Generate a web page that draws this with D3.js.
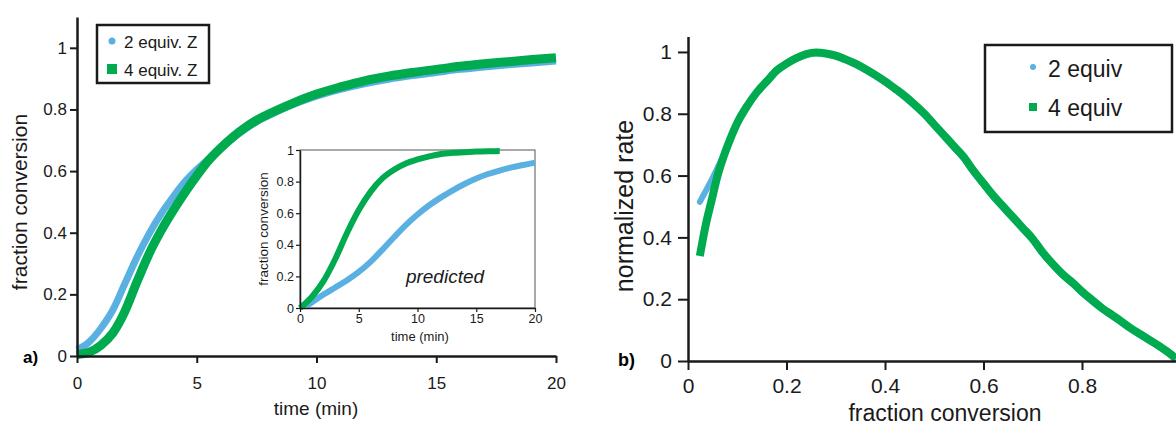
<!DOCTYPE html>
<html>
<head>
<meta charset="utf-8">
<script src="https://cdn.jsdelivr.net/npm/d3@7"></script>
<style>
  body { margin: 0; background: #fff; }
  svg { display: block; font-family: "Liberation Sans", Arial, sans-serif; }
  .domain { stroke: #1a1a1a; }
</style>
</head>
<body>
<svg id="chart" width="1176" height="428"></svg>
<script>
// ---- data ----
// panel a, measured curves
var mainTime = [0, 0.5, 1, 1.5, 2, 2.5, 3, 3.5, 4, 4.5, 5, 5.5, 6, 6.5, 7, 7.5, 8, 9, 10, 11, 12, 13, 14, 15, 16, 17, 18, 19, 20];
var main2equiv = [0.02, 0.045, 0.09, 0.15, 0.235, 0.32, 0.395, 0.46, 0.515, 0.565, 0.605, 0.64, 0.675, 0.707, 0.735, 0.76, 0.78, 0.815, 0.843, 0.865, 0.883, 0.898, 0.91, 0.92, 0.93, 0.938, 0.945, 0.951, 0.957];
var main4equiv = [0.005, 0.012, 0.035, 0.075, 0.145, 0.24, 0.33, 0.405, 0.47, 0.53, 0.585, 0.635, 0.675, 0.71, 0.74, 0.765, 0.785, 0.82, 0.85, 0.873, 0.893, 0.908, 0.92, 0.93, 0.94, 0.948, 0.955, 0.962, 0.968];

// panel a inset, predicted curves
var insetTime2 = [0.5, 1, 2, 3, 4, 5, 6, 7, 8, 9, 10, 11, 12, 13, 14, 15, 16, 17, 18, 19, 20];
var inset2equiv = [0.01, 0.035, 0.085, 0.13, 0.175, 0.228, 0.292, 0.368, 0.448, 0.525, 0.592, 0.65, 0.7, 0.745, 0.785, 0.82, 0.848, 0.87, 0.89, 0.905, 0.92];
var insetTime4 = [0, 1, 2, 3, 4, 5, 6, 7, 8, 9, 10, 11, 12, 13, 14, 15, 16, 17];
var inset4equiv = [0.0, 0.07, 0.17, 0.31, 0.475, 0.62, 0.735, 0.82, 0.875, 0.915, 0.94, 0.96, 0.975, 0.982, 0.986, 0.99, 0.992, 0.993];

// panel b, normalized rate vs fraction conversion
var convB = [0.024, 0.036, 0.048, 0.06, 0.072, 0.085, 0.1, 0.12, 0.14, 0.16, 0.18, 0.2, 0.22, 0.24, 0.26, 0.28, 0.3, 0.32, 0.34, 0.36, 0.38, 0.4, 0.42, 0.44, 0.46, 0.48, 0.5, 0.52, 0.54, 0.56, 0.58, 0.6, 0.62, 0.64, 0.66, 0.68, 0.7, 0.72, 0.74, 0.76, 0.78, 0.8, 0.82, 0.84, 0.86, 0.88, 0.9, 0.92, 0.94, 0.96, 0.98, 0.99];
var rate4equiv = [0.34, 0.44, 0.52, 0.6, 0.66, 0.715, 0.77, 0.825, 0.87, 0.905, 0.94, 0.962, 0.98, 0.993, 0.998, 0.995, 0.988, 0.976, 0.962, 0.945, 0.926, 0.905, 0.882, 0.858, 0.83, 0.8, 0.765, 0.73, 0.695, 0.66, 0.615, 0.575, 0.535, 0.5, 0.465, 0.43, 0.395, 0.352, 0.315, 0.282, 0.255, 0.225, 0.198, 0.172, 0.15, 0.128, 0.105, 0.085, 0.065, 0.045, 0.022, 0.008];
var rate2equiv = [0.515, 0.55, 0.586, 0.625, 0.665, 0.715, 0.77, 0.825, 0.868, 0.903, 0.937, 0.96, 0.978, 0.99, 0.996, 0.993, 0.985, 0.973, 0.958, 0.941, 0.922, 0.901, 0.878, 0.853, 0.826, 0.796, 0.761, 0.726, 0.69, 0.655, 0.61, 0.57, 0.53, 0.495, 0.46, 0.425, 0.39, 0.347, 0.31, 0.277, 0.25, 0.22, 0.193, 0.168, 0.146, 0.124, 0.101, 0.081, 0.062, 0.042, 0.02, 0.007];

var ticksA = [0, 0.2, 0.4, 0.6, 0.8, 1];
var ticksTime = [0, 5, 10, 15, 20];
var ticksBx = [0, 0.2, 0.4, 0.6, 0.8];

var blue = "#5bb0e2", green = "#00ab4f";

var svg = d3.select("#chart");

function zip(xs, ys) {
  return xs.map(function (x, i) { return [x, ys[i]]; });
}

function styleAxis(g, w, size) {
  g.select(".domain").attr("stroke-width", w);
  g.selectAll(".tick line").attr("stroke", "#1a1a1a").attr("stroke-width", w * 0.8);
  g.selectAll(".tick text").attr("fill", "#1a1a1a").style("font-size", size + "px");
}

// ================= panel a =================
var xa = d3.scaleLinear().domain([0, 20]).range([77, 556]);
var ya = d3.scaleLinear().domain([0, 1.1]).range([356, 17]);

var lineA = d3.line().curve(d3.curveMonotoneX)
  .x(function (d) { return xa(d[0]); })
  .y(function (d) { return ya(d[1]); });

svg.append("path").datum(zip(mainTime, main2equiv))
  .attr("d", lineA).attr("fill", "none").attr("stroke", blue).attr("stroke-width", 7);
svg.append("path").datum(zip(mainTime, main4equiv))
  .attr("d", lineA).attr("fill", "none").attr("stroke", green).attr("stroke-width", 9);

var gxa = svg.append("g").attr("transform", "translate(0,356)")
  .call(d3.axisBottom(xa).tickValues(ticksTime).tickSize(7).tickSizeOuter(0).tickPadding(14));
styleAxis(gxa, 2.5, 17);

var gya = svg.append("g").attr("transform", "translate(77,0)")
  .call(d3.axisLeft(ya).tickValues(ticksA).tickFormat(d3.format("")).tickSize(7).tickSizeOuter(0).tickPadding(3));
styleAxis(gya, 2.5, 17);

svg.append("text").attr("x", 316).attr("y", 415).attr("text-anchor", "middle")
  .style("font-size", "19px").attr("fill", "#1a1a1a").text("time (min)");
svg.append("text").attr("transform", "translate(27,202) rotate(-90)").attr("text-anchor", "middle")
  .style("font-size", "21px").attr("fill", "#1a1a1a").text("fraction conversion");
svg.append("text").attr("x", 23).attr("y", 363).style("font-size", "17px").style("font-weight", "bold")
  .text("a)");

// legend a
var legA = svg.append("g");
legA.append("rect").attr("x", 97).attr("y", 25).attr("width", 112).attr("height", 58)
  .attr("fill", "#fff").attr("stroke", "#1a1a1a").attr("stroke-width", 2.5);
legA.append("circle").attr("cx", 112).attr("cy", 41).attr("r", 3.5).attr("fill", blue);
legA.append("rect").attr("x", 107).attr("y", 64).attr("width", 10).attr("height", 10).attr("fill", green);
legA.append("text").attr("x", 124).attr("y", 48).style("font-size", "17px").attr("fill", "#1a1a1a").text("2 equiv. Z");
legA.append("text").attr("x", 124).attr("y", 76).style("font-size", "17px").attr("fill", "#1a1a1a").text("4 equiv. Z");

// inset
var xi = d3.scaleLinear().domain([0, 20]).range([300, 535]);
var yi = d3.scaleLinear().domain([0, 1]).range([308, 150]);

svg.append("rect").attr("x", 300).attr("y", 150).attr("width", 235).attr("height", 158)
  .attr("fill", "#fff").attr("stroke", "#555").attr("stroke-width", 1);

var lineI = d3.line().curve(d3.curveMonotoneX)
  .x(function (d) { return xi(d[0]); })
  .y(function (d) { return yi(d[1]); });

svg.append("path").datum(zip(insetTime2, inset2equiv))
  .attr("d", lineI).attr("fill", "none").attr("stroke", blue).attr("stroke-width", 6);
svg.append("path").datum(zip(insetTime4, inset4equiv))
  .attr("d", lineI).attr("fill", "none").attr("stroke", green).attr("stroke-width", 6);

var gxi = svg.append("g").attr("transform", "translate(0,308)")
  .call(d3.axisBottom(xi).tickValues(ticksTime).tickSize(4).tickSizeOuter(0).tickPadding(2));
styleAxis(gxi, 1.5, 12.5);
var gyi = svg.append("g").attr("transform", "translate(300,0)")
  .call(d3.axisLeft(yi).tickValues(ticksA).tickFormat(d3.format("")).tickSize(4).tickSizeOuter(0).tickPadding(2));
styleAxis(gyi, 1.5, 12.5);

svg.append("text").attr("x", 420).attr("y", 341).attr("text-anchor", "middle")
  .style("font-size", "13px").attr("fill", "#1a1a1a").text("time (min)");
svg.append("text").attr("transform", "translate(268,229) rotate(-90)").attr("text-anchor", "middle")
  .style("font-size", "13.5px").attr("fill", "#1a1a1a").text("fraction conversion");
svg.append("text").attr("x", 445).attr("y", 283).attr("text-anchor", "middle")
  .style("font-size", "19px").style("font-style", "italic").attr("fill", "#1a1a1a").text("predicted");

// ================= panel b =================
var xb = d3.scaleLinear().domain([0, 1]).range([688, 1180.5]);
var yb = d3.scaleLinear().domain([0, 1.05]).range([361, 36.5]);

var lineB = d3.line().curve(d3.curveMonotoneX)
  .x(function (d) { return xb(d[0]); })
  .y(function (d) { return yb(d[1]); });

svg.append("path").datum(zip(convB, rate2equiv))
  .attr("d", lineB).attr("fill", "none").attr("stroke", blue).attr("stroke-width", 6)
  .attr("stroke-linecap", "round");
svg.append("path").datum(zip(convB, rate4equiv))
  .attr("d", lineB).attr("fill", "none").attr("stroke", green).attr("stroke-width", 8);

var xbAxis = d3.scaleLinear().domain([0, xb.invert(1176)]).range([688, 1176]);
var gxb = svg.append("g").attr("transform", "translate(0,361)")
  .call(d3.axisBottom(xbAxis).tickValues(ticksBx).tickFormat(d3.format("")).tickSize(9).tickSizeOuter(0).tickPadding(8));
styleAxis(gxb, 2.5, 21);

var gyb = svg.append("g").attr("transform", "translate(688,0)")
  .call(d3.axisLeft(yb).tickValues(ticksA).tickFormat(d3.format("")).tickSize(10).tickSizeOuter(0).tickPadding(6));
styleAxis(gyb, 2.5, 21);

svg.append("text").attr("x", 945).attr("y", 421).attr("text-anchor", "middle")
  .style("font-size", "23px").attr("fill", "#1a1a1a").text("fraction conversion");
svg.append("text").attr("transform", "translate(633,206) rotate(-90)").attr("text-anchor", "middle")
  .style("font-size", "25px").attr("fill", "#1a1a1a").text("normalized rate");
svg.append("text").attr("x", 618).attr("y", 366).style("font-size", "18px").style("font-weight", "bold")
  .text("b)");

// legend b
var legB = svg.append("g");
legB.append("rect").attr("x", 985).attr("y", 45).attr("width", 187).attr("height", 87)
  .attr("fill", "#fff").attr("stroke", "#1a1a1a").attr("stroke-width", 2.5);
legB.append("circle").attr("cx", 1033).attr("cy", 67).attr("r", 3).attr("fill", blue);
legB.append("rect").attr("x", 1029).attr("y", 103).attr("width", 8).attr("height", 8).attr("fill", green);
legB.append("text").attr("x", 1048).attr("y", 77).style("font-size", "23px").attr("fill", "#1a1a1a").text("2 equiv");
legB.append("text").attr("x", 1048).attr("y", 116).style("font-size", "23px").attr("fill", "#1a1a1a").text("4 equiv");
</script>
</body>
</html>
